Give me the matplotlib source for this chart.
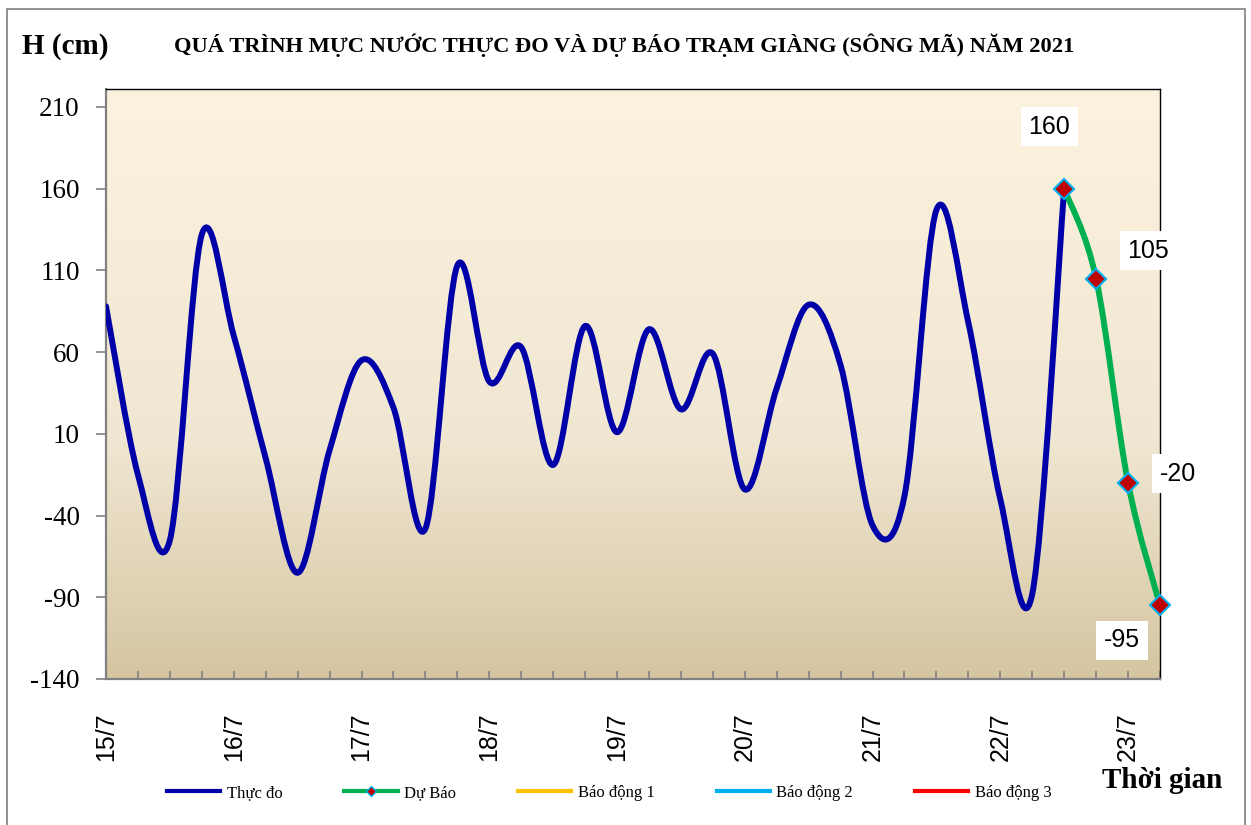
import numpy as np
import matplotlib
matplotlib.use("Agg")
import matplotlib.pyplot as plt
from matplotlib.path import Path
from matplotlib.patches import PathPatch, Rectangle
from matplotlib.lines import Line2D
from matplotlib.colors import LinearSegmentedColormap

# -----------------------------
# Data (6-hour steps from 15/7 00h)
# -----------------------------
obs_step = list(range(31))
obs_level = [88, -15, -55, 132, 70, -5, -75, 0, 55, 26, -48, 113, 42, 63, -9,
             76, 11, 74, 25, 59, -24, 38, 89, 52, -46, -28, 147, 78, -30, -88, 160]
fc_step = [30, 31, 32, 33]
fc_level = [160, 105, -20, -95]
day_labels = ["15/7", "16/7", "17/7", "18/7", "19/7", "20/7", "21/7", "22/7", "23/7"]
yticks = [-140, -90, -40, 10, 60, 110, 160, 210]

title = "QUÁ TRÌNH MỰC NƯỚC THỰC ĐO VÀ DỰ BÁO TRẠM GIÀNG (SÔNG MÃ) NĂM 2021"

SERIF = "Liberation Serif"
SANS = "Liberation Sans"


def smooth_path(x, y):
    # Excel-like smoothed line: cubic Bezier through every point (Catmull-Rom)
    n = len(x)
    verts = [(x[0], y[0])]
    codes = [Path.MOVETO]
    for i in range(n - 1):
        xa, ya = (x[i - 1], y[i - 1]) if i > 0 else (x[i], y[i])
        xb, yb = (x[i + 2], y[i + 2]) if i + 2 < n else (x[i + 1], y[i + 1])
        c1 = (x[i] + (x[i + 1] - xa) / 6, y[i] + (y[i + 1] - ya) / 6)
        c2 = (x[i + 1] - (xb - x[i]) / 6, y[i + 1] - (yb - y[i]) / 6)
        verts += [c1, c2, (x[i + 1], y[i + 1])]
        codes += [Path.CURVE4] * 3
    return Path(verts, codes)


fig = plt.figure(figsize=(12.51, 8.25), dpi=100)
ax = fig.add_axes([106 / 1251, 1 - 679 / 825, (1160 - 106) / 1251, (679 - 89) / 825])

ymin, ymax = -140, 221
ax.set_xlim(0, 33)
ax.set_ylim(ymin, ymax)

# gradient background of the plot area
cmap = LinearSegmentedColormap.from_list(
    "bg", [(0, "#D5C5A1"), (0.4, "#F0E7D2"), (1, "#FCF2DF")])
grad = np.linspace(0, 1, 256).reshape(-1, 1)
ax.imshow(grad, extent=[0, 33, ymin, ymax], origin="lower", aspect="auto",
          cmap=cmap, zorder=0)

# measured line
ax.add_patch(PathPatch(smooth_path(obs_step, obs_level), fill=False,
                       edgecolor="#0000A8", lw=4.3, capstyle="round",
                       joinstyle="round", zorder=3))
# forecast line
ax.add_patch(PathPatch(smooth_path(fc_step, fc_level), fill=False,
                       edgecolor="#00B050", lw=4.3, capstyle="round", zorder=4))
ax.plot(fc_step, fc_level, ls="none", marker="D", ms=10, mfc="#C00000",
        mec="#00B0F0", mew=1.5, zorder=5, clip_on=False)

# data labels
offsets = [(-15, 62), (52, 28), (50, 9), (-38, -35)]
for xs, v, off in zip(fc_step, fc_level, offsets):
    ax.annotate(str(v), (xs, v), xytext=off, textcoords="offset pixels",
                ha="center", va="center", fontsize=18, family=SANS,
                bbox=dict(boxstyle="square,pad=0.3", fc="white", ec="none"),
                annotation_clip=False, zorder=10)

# axes styling
for s in ["left", "bottom"]:
    ax.spines[s].set_color("#808080")
    ax.spines[s].set_linewidth(1.6)
for s in ["top", "right"]:
    ax.spines[s].set_color("black")
    ax.spines[s].set_linewidth(1.0)
ax.spines["right"].set_zorder(2)

ax.set_yticks(yticks)
ax.set_yticklabels([str(t) for t in yticks], family=SERIF, fontsize=19.5)
ax.tick_params(axis="y", direction="out", length=7, width=1.2, color="#808080", pad=12)

ax.set_xticks(range(0, 33, 4))
ax.set_xticks(range(0, 34), minor=True)
ax.set_xticklabels(day_labels, rotation=90, family=SANS, fontsize=18)
ax.tick_params(axis="x", which="both", direction="in", length=6, width=1.2,
               color="#808080", pad=24)

# texts
fig.text(22 / 1251, 1 - 47 / 825, "H (cm)", family=SERIF, weight="bold",
         fontsize=21, ha="left", va="center")
fig.text(624 / 1251, 1 - 45 / 825, title, family=SERIF, weight="bold",
         fontsize=16.2, ha="center", va="center")
fig.text(1222 / 1251, 1 - 780 / 825, "Thời gian", family=SERIF, weight="bold",
         fontsize=21, ha="right", va="center")

# legend
handles = [
    Line2D([], [], color="#0000A8", lw=3),
    Line2D([], [], color="#00B050", lw=3, marker="D", ms=5, mfc="#C00000", mec="#00B0F0"),
    Line2D([], [], color="#FFC000", lw=3),
    Line2D([], [], color="#00B0F0", lw=3),
    Line2D([], [], color="#FF0000", lw=3),
]
labels = ["Thực đo", "Dự Báo", "Báo động 1", "Báo động 2", "Báo động 3"]
fig.legend(handles, labels, loc="center left", bbox_to_anchor=(152 / 1251, 1 - 793 / 825),
           ncol=5, frameon=False, prop={"family": SERIF, "size": 12},
           handlelength=3.2, handletextpad=0.4, columnspacing=3.7)

# outer chart border
fig.patches.append(Rectangle((7 / 1251, -0.01), (1245 - 7) / 1251, 1 - 9 / 825 + 0.01,
                             transform=fig.transFigure, fill=False,
                             ec="#808080", lw=1.2))

fig.savefig("out.png", dpi=100)
